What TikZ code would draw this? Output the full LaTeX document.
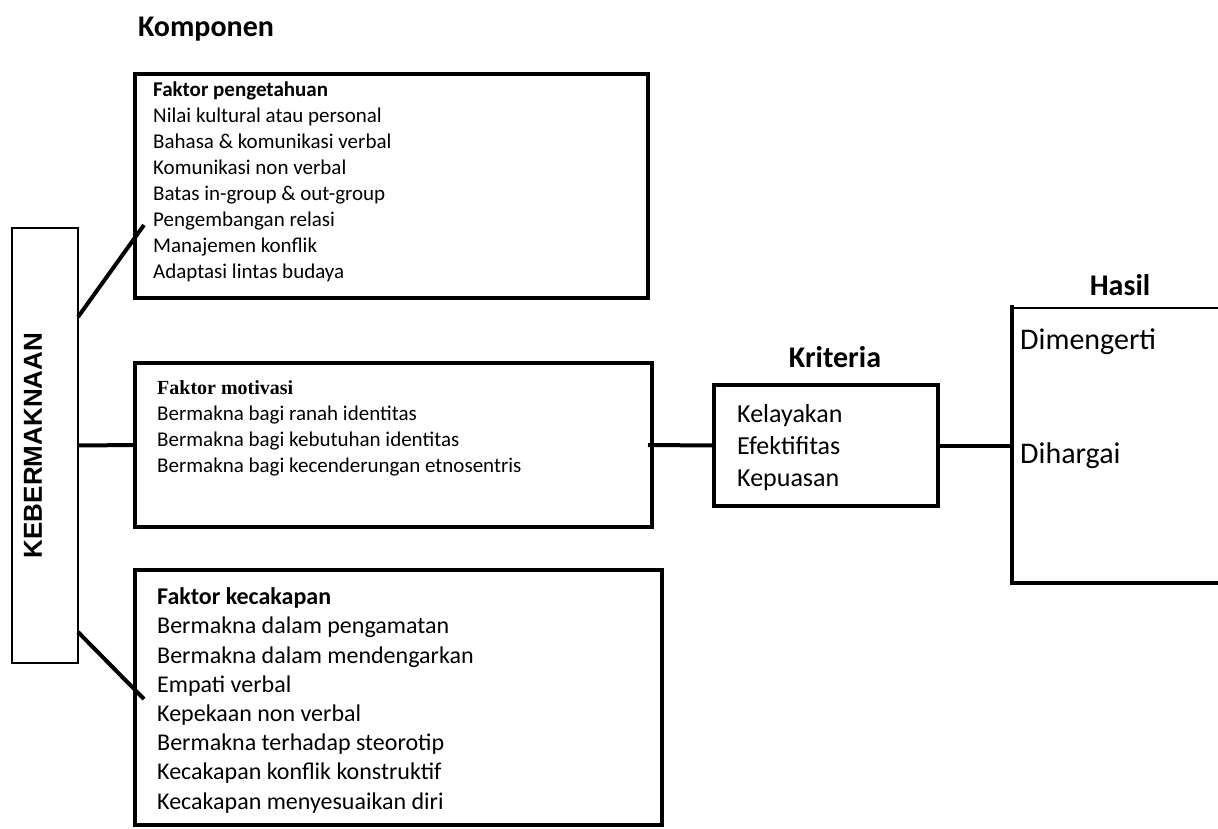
\documentclass[tikz,border=0pt]{standalone}
\usepackage{fontspec}
\setmainfont{Carlito}
\newfontfamily\timesfont{Liberation Serif}
\newfontfamily\arialfont{Liberation Sans}
\usetikzlibrary{positioning}

\begin{document}
\begin{tikzpicture}[%
    x=1pt, y=-1pt,
    box/.style={draw, line width=4pt, outer sep=0pt, inner sep=0pt},
    link/.style={line width=4pt},
    list/.style={anchor=base west, align=left, inner sep=0pt},
    heading/.style={anchor=base, inner sep=0pt, font=\fontsize{30}{36}\selectfont\bfseries}
    ]

    \useasboundingbox (0,0) rectangle (1218,828);

    % kotak
    \node[draw, line width=1.5pt, outer sep=0pt, minimum width=66, minimum height=435] (kebermaknaan) at (45,445.5) {};
    \node[box, minimum width=513, minimum height=224] (pengetahuan) at (391.5,186) {};
    \node[box, minimum width=517, minimum height=164] (motivasi) at (393.5,445) {};
    \node[box, minimum width=527, minimum height=255] (kecakapan) at (398.5,697.5) {};
    \node[box, minimum width=224, minimum height=121] (kriteria) at (826,445.5) {};
    \node[outer sep=0pt, minimum width=228, minimum height=275] (hasil) at (1126,445.5) {};
    \draw[link] ([yshift=3]hasil.north west) -- (hasil.south west) -- (hasil.south east);
    \draw[line width=1.5pt] (hasil.north west) -- (hasil.north east);

    % judul
    \node[heading] (komponen) at (206,36) {Komponen};
    \node[heading] (kriteriajudul) at (835,367) {Kriteria};
    \node[heading] (hasiljudul) at (1120,295) {Hasil};
    \node[rotate=90, inner sep=0pt, font=\arialfont\bfseries\fontsize{26}{30}\selectfont] (kebermaknaanteks) at ([xshift=-12]kebermaknaan.center) {KEBERMAKNAAN};

    % isi (base = baris terakhir)
    \node[list, font=\fontsize{21}{25.9}\selectfont] (pengetahuanteks) at (153,278) {\textbf{Faktor pengetahuan}\\Nilai kultural atau personal\\Bahasa \& komunikasi verbal\\Komunikasi non verbal\\Batas in-group \& out-group\\Pengembangan relasi\\Manajemen konflik\\Adaptasi lintas budaya};
    \node[list, font=\fontsize{21}{26}\selectfont] (motivasiteks) at (157,472) {{\timesfont\bfseries\fontsize{20}{26}\selectfont Faktor motivasi}\\Bermakna bagi ranah identitas\\Bermakna bagi kebutuhan identitas\\Bermakna bagi kecenderungan etnosentris};
    \node[list, font=\fontsize{24}{29.2}\selectfont] (kecakapanteks) at (157,809) {\textbf{Faktor kecakapan}\\Bermakna dalam pengamatan\\Bermakna dalam mendengarkan\\Empati verbal\\Kepekaan non verbal\\Bermakna terhadap steorotip\\Kecakapan konflik konstruktif\\Kecakapan menyesuaikan diri};
    \node[list, font=\fontsize{26}{32}\selectfont] (kriteriateks) at (737,486) {Kelayakan\\Efektifitas\\Kepuasan};
    \node[list, font=\fontsize{30}{36}\selectfont] (dimengerti) at (1020,349) {Dimengerti};
    \node[list, font=\fontsize{30}{36}\selectfont] (dihargai) at (1020,463) {Dihargai};

    % garis
    \draw[link] ([yshift=-89]kebermaknaan.north east) -- ([xshift=9,yshift=-151]pengetahuan.north west);
    \draw[link] (kebermaknaan.east) -- (motivasi.west);
    \draw[link] ([yshift=31]kebermaknaan.south east) -- ([xshift=9,yshift=-129]kecakapan.north west);
    \draw[link] ([xshift=-4]motivasi.east) -- (kriteria.west);
    \draw[link] (kriteria.east) -- (hasil.west);

\end{tikzpicture}
\end{document}
